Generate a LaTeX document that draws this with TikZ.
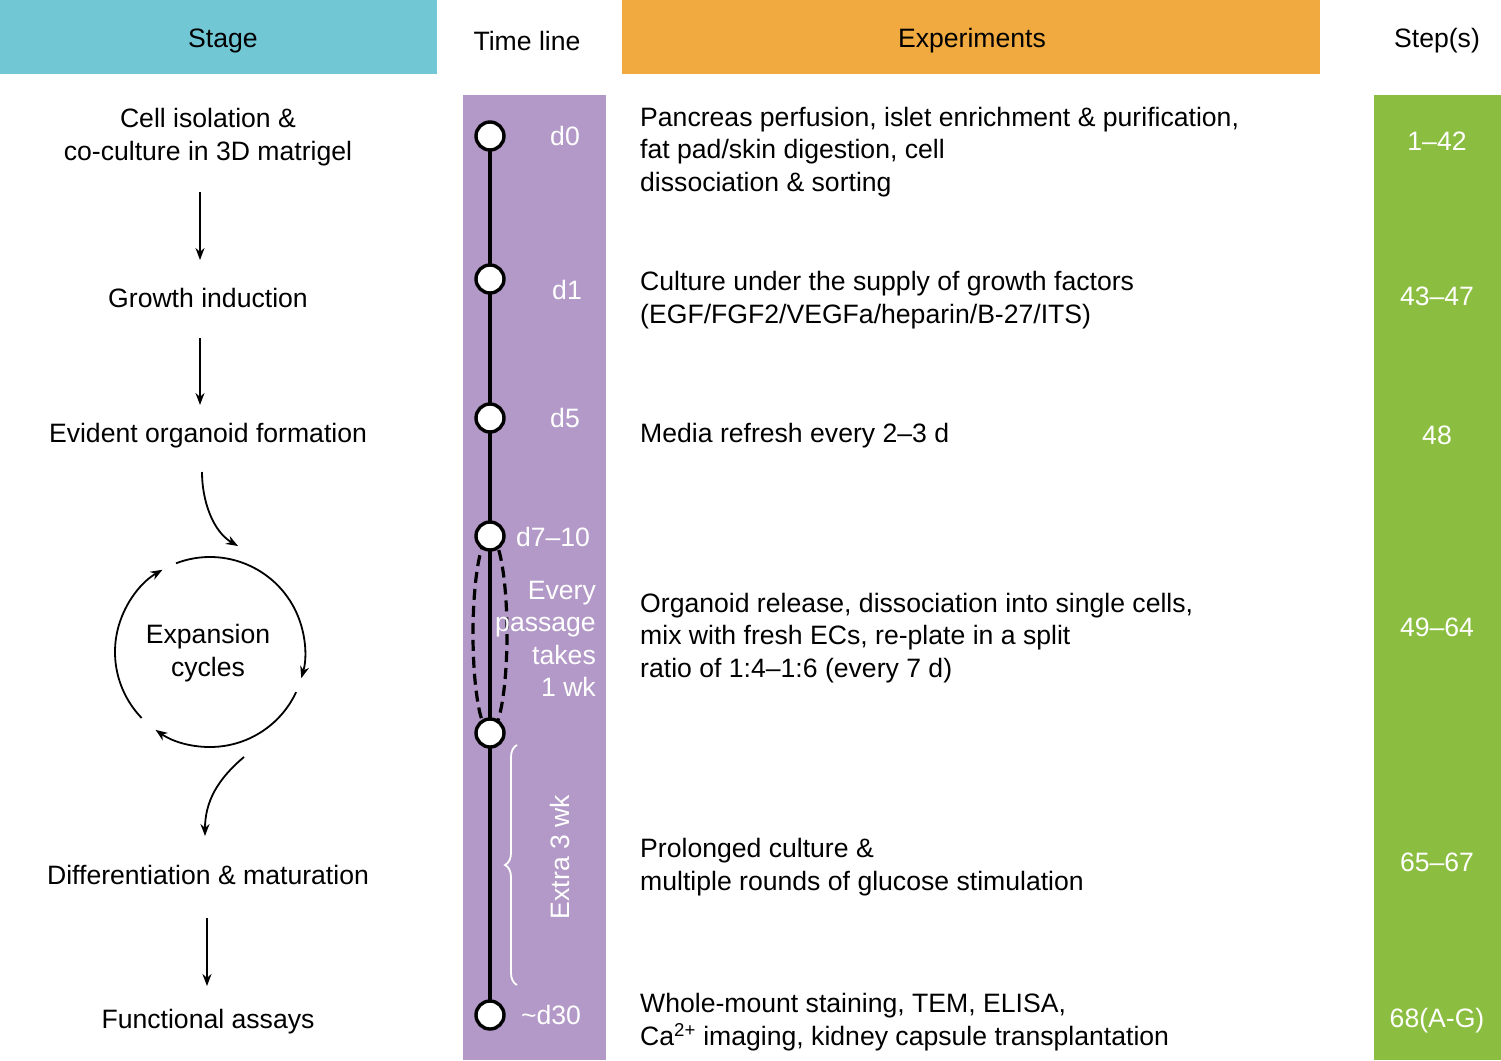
\documentclass[tikz,border=0pt]{standalone}
\usepackage{fontspec}
\setmainfont{Liberation Sans}
\usetikzlibrary{decorations.pathreplacing,arrows.meta}
\definecolor{cyanh}{RGB}{114,199,212}
\definecolor{orangeh}{RGB}{240,170,64}
\definecolor{purp}{RGB}{179,153,199}
\definecolor{grn}{RGB}{139,190,64}
\begin{document}
\begin{tikzpicture}[x=1pt,y=-1pt,
  txt/.style={font=\fontsize{26.6}{32.5}\selectfont,inner sep=0pt},
  wt/.style={txt,text=white},
  stg/.style={txt,align=center},
  exp/.style={txt,align=left,anchor=west},
  tp/.style={circle,draw=black,fill=white,line width=3.4pt,minimum size=28pt,inner sep=0pt},
  arr/.style={-{Stealth[length=12pt,width=9pt]},line width=1.8pt}]
\useasboundingbox (0,0) rectangle (1501,1060);
\fill[cyanh] (0,0) rectangle (437,74);
\fill[orangeh] (622,0) rectangle (1320,74);
\fill[purp] (463,95) rectangle (606,1060);
\fill[grn] (1374,95) rectangle (1501,1060);
\node[txt] (hs) at (223,41) {Stage};
\node[txt] (ht) at (527,41) {Time line};
\node[txt] (he) at (972,41) {Experiments};
\node[txt] (hst) at (1437,41) {Step(s)};
% timeline
\coordinate (t0) at (490,136);
\coordinate (t5) at (490,1015);
\draw[line width=3.4pt] (t0) -- (t5);
\draw[dash pattern=on 11pt off 6pt,line width=3.2pt] (490,634) ellipse (17 and 98);
\foreach \n/\y in {0/136,1/279,2/418,3/536,4/733,5/1015} \node[tp] (c\n) at (490,\y) {};
\node[wt] (l0) at (565,136) {d0};
\node[wt] (l1) at (567,290) {d1};
\node[wt] (l2) at (565,418) {d5};
\node[wt] (l3) at (553,537) {d7--10};
\node[wt] (l5) at (551,1015) {\textasciitilde d30};
\node[wt,align=right,anchor=east] (ev) at (596,639) {Every\\passage\\takes\\1 wk};
\coordinate (b1) at (517,745);
\coordinate (b2) at (517,985);
\draw[white,line width=1.8pt,decorate,decoration={brace,amplitude=12pt,mirror}] (b1) -- (b2);
\node[wt,rotate=90] (ex) at (560,857) {Extra 3 wk};
% stages
\node[stg] (s1) at (208,137) {Cell isolation \&\\co-culture in 3D matrigel};
\node[stg] (s2) at (208,298) {Growth induction};
\node[stg] (s3) at (208,436) {Evident organoid formation};
\node[stg] (s4) at (208,653) {Expansion\\cycles};
\node[stg] (s5) at (208,875) {Differentiation \& maturation};
\node[stg] (s6) at (208,1022) {Functional assays};
\coordinate (a1s) at (200,192); \coordinate (a1e) at (200,260);
\draw[arr] (a1s) -- (a1e);
\coordinate (a2s) at (200,338); \coordinate (a2e) at (200,405);
\draw[arr] (a2s) -- (a2e);
\coordinate (a3s) at (202,472); \coordinate (a3e) at (238,546);
\draw[arr] (a3s) to[out=-90,in=150,looseness=0.9] (a3e);
\coordinate (a4s) at (244,757); \coordinate (a4e) at (205,836);
\draw[arr] (a4s) to[out=-140,in=90] (a4e);
\coordinate (a5s) at (207,918); \coordinate (a5e) at (207,986);
\draw[arr] (a5s) -- (a5e);
\draw[arr] (210,652) ++(-111:95) arc[start angle=-111,end angle=16,radius=95];
\draw[arr] (210,652) ++(25:95) arc[start angle=25,end angle=125,radius=95];
\draw[arr] (210,652) ++(136:95) arc[start angle=136,end angle=240,radius=95];
% experiments
\node[exp] (e1) at (640,152) {Pancreas perfusion, islet enrichment \& purification,\\fat pad/skin digestion, cell\\dissociation \& sorting};
\node[exp] (e2) at (640,300) {Culture under the supply of growth factors\\(EGF/FGF2/VEGFa/heparin/B-27/ITS)};
\node[exp] (e3) at (640,436) {Media refresh every 2--3 d};
\node[exp] (e4) at (640,638) {Organoid release, dissociation into single cells,\\mix with fresh ECs, re-plate in a split\\ratio of 1:4--1:6 (every 7 d)};
\node[exp] (e5) at (640,867) {Prolonged culture \&\\multiple rounds of glucose stimulation};
\node[exp] (e6) at (640,1022) {Whole-mount staining, TEM, ELISA,\\Ca\textsuperscript{2+} imaging, kidney capsule transplantation};
% steps
\node[wt] (p1) at (1437,141) {1--42};
\node[wt] (p2) at (1437,296) {43--47};
\node[wt] (p3) at (1437,435) {48};
\node[wt] (p4) at (1437,627) {49--64};
\node[wt] (p5) at (1437,862) {65--67};
\node[wt] (p6) at (1437,1021) {68(A-G)};
\end{tikzpicture}
\end{document}
